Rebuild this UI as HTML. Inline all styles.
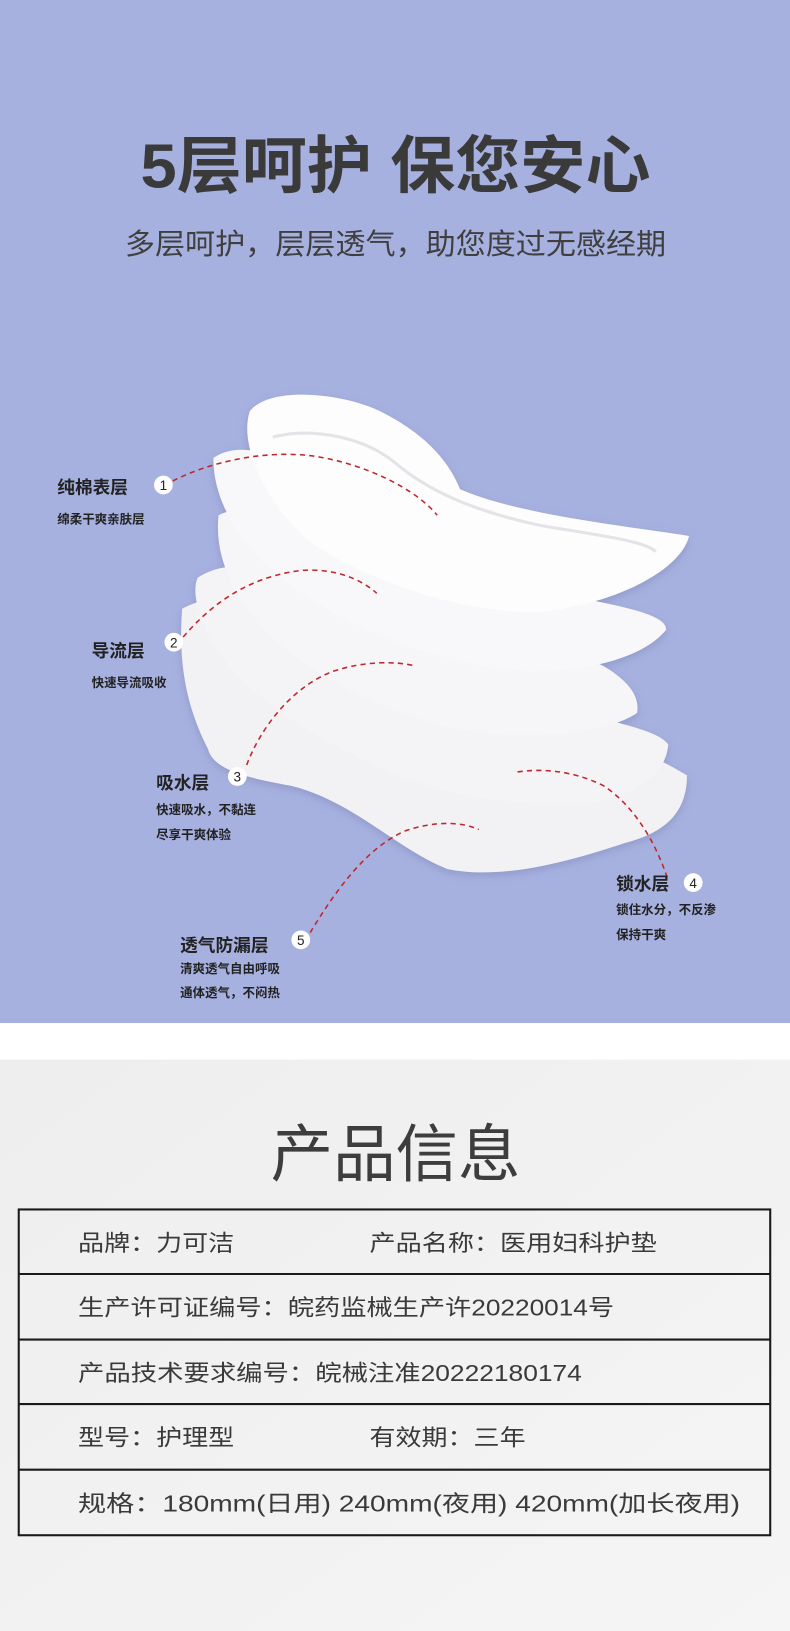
<!DOCTYPE html>
<html><head><meta charset="utf-8"><style>
html,body{margin:0;padding:0;width:790px;height:1631px;overflow:hidden;background:#fff}
svg{display:block}
text{font-family:"Liberation Sans","Noto Sans CJK SC",sans-serif}
</style></head><body>
<svg width="790" height="1631" viewBox="0 0 759 1567" preserveAspectRatio="none">
<defs>
<filter id="sh" x="-10%" y="-10%" width="120%" height="130%"><feDropShadow dx="0" dy="3" stdDeviation="4" flood-color="#6670a0" flood-opacity="0.35"/></filter>
<linearGradient id="bg2" x1="0" y1="0" x2="1" y2="1"><stop offset="0" stop-color="#eeeeee"/><stop offset="1" stop-color="#f5f5f5"/></linearGradient>
</defs>
<rect x="0" y="0" width="759" height="983" fill="#a7b1e0"/>
<rect x="0" y="983" width="759" height="35" fill="#ffffff"/>
<rect x="0" y="1018" width="759" height="549" fill="url(#bg2)"/>

<text x="380" y="180" font-size="60" fill="#3a3a3a" text-anchor="middle" font-weight="bold" textLength="490" lengthAdjust="spacingAndGlyphs">5层呵护  保您安心</text>
<text x="380" y="244" font-size="28" fill="#3f3f3f" text-anchor="middle" textLength="520" lengthAdjust="spacingAndGlyphs">多层呵护，层层透气，助您度过无感经期</text>

<g filter="url(#sh)">
<path d="M175,585 C200,570 230,575 250,590 C300,600 400,640 500,680 C560,700 620,720 660,745 C660,780 640,800 600,810 C540,830 480,845 430,835 C380,815 340,770 280,755 C240,748 205,740 200,720 C185,690 170,650 175,585 Z" fill="#f2f2f4"/>
<path d="M190,555 C220,535 260,545 300,570 C380,610 470,650 540,680 C590,695 630,700 642,715 C640,745 610,765 560,772 C480,775 400,760 330,720 C270,690 220,650 200,610 C188,585 185,565 190,555 Z" fill="#f4f4f6"/>
<path d="M210,495 C240,480 290,495 340,525 C420,570 520,610 580,640 C605,655 615,670 612,685 C590,700 540,710 470,705 C390,695 320,660 270,620 C230,585 205,540 210,495 Z" fill="#f6f6f8"/>
<path d="M205,440 C235,420 280,440 320,480 C380,520 480,560 560,575 C610,585 640,592 640,605 C620,630 570,645 510,645 C430,640 350,610 290,570 C240,535 205,490 205,440 Z" fill="#f8f8fa"/>
<path d="M240,395 C260,370 330,378 365,395 C405,415 430,440 442,470 C500,495 600,505 662,515 C655,545 600,578 520,588 C450,590 360,562 300,522 C262,492 228,432 240,395 Z" fill="#fdfdfd"/>
</g>
<path d="M262,420 C300,410 350,420 380,445 C410,470 450,490 520,505 C580,515 620,520 630,530" stroke="#e4e4e8" stroke-width="3" fill="none"/>

<g stroke="#c0262d" stroke-width="1.5" stroke-dasharray="5,4" fill="none">
<path d="M166,462 C200,445 250,432 300,438 C350,445 400,470 420,495"/>
<path d="M176,612 C195,590 230,555 290,548 C320,546 345,555 362,570"/>
<path d="M237,735 C250,700 280,660 320,645 C350,635 380,635 400,640"/>
<path d="M641,843 C630,810 610,775 580,755 C550,740 520,738 495,742"/>
<path d="M298,896 C320,860 350,815 390,798 C420,788 445,790 460,797"/>
</g>

<g font-weight="bold" fill="#222">
<text x="55" y="474" font-size="17">纯棉表层</text>
<text x="55" y="503" font-size="12">绵柔干爽亲肤层</text>
<text x="88" y="631" font-size="17">导流层</text>
<text x="88" y="660" font-size="12">快速导流吸收</text>
<text x="150" y="758" font-size="17">吸水层</text>
<text x="150" y="782" font-size="12">快速吸水，不黏连</text>
<text x="150" y="806" font-size="12">尽享干爽体验</text>
<text x="592" y="855" font-size="17">锁水层</text>
<text x="592" y="878" font-size="12">锁住水分，不反渗</text>
<text x="592" y="902" font-size="12">保持干爽</text>
<text x="173" y="914" font-size="17">透气防漏层</text>
<text x="173" y="935" font-size="12">清爽透气自由呼吸</text>
<text x="173" y="958" font-size="12">通体透气，不闷热</text>
</g>
<g fill="#fff">
<circle cx="157" cy="466" r="9"/><circle cx="167" cy="617" r="9"/><circle cx="228" cy="746" r="9"/><circle cx="666" cy="848" r="9"/><circle cx="289" cy="903" r="9"/>
</g>
<g font-size="13" fill="#222" text-anchor="middle">
<text x="157" y="471">1</text><text x="167" y="622">2</text><text x="228" y="751">3</text><text x="666" y="853">4</text><text x="289" y="908">5</text>
</g>

<text x="380" y="1130" font-size="60" fill="#3d3d3d" text-anchor="middle">产品信息</text>
<g stroke="#1a1a1a" stroke-width="2" fill="none">
<rect x="18" y="1162" width="722" height="313"/>
<line x1="18" y1="1224" x2="740" y2="1224"/>
<line x1="18" y1="1287" x2="740" y2="1287"/>
<line x1="18" y1="1349" x2="740" y2="1349"/>
<line x1="18" y1="1412" x2="740" y2="1412"/>
</g>
<g font-size="22" fill="#3a3a3a">
<text x="75" y="1202" textLength="150" lengthAdjust="spacingAndGlyphs">品牌：力可洁</text>
<text x="355" y="1202" textLength="276" lengthAdjust="spacingAndGlyphs">产品名称：医用妇科护垫</text>
<text x="75" y="1264" textLength="515" lengthAdjust="spacingAndGlyphs">生产许可证编号：皖药监械生产许20220014号</text>
<text x="75" y="1327" textLength="484" lengthAdjust="spacingAndGlyphs">产品技术要求编号：皖械注准20222180174</text>
<text x="75" y="1389" textLength="150" lengthAdjust="spacingAndGlyphs">型号：护理型</text>
<text x="355" y="1389" textLength="150" lengthAdjust="spacingAndGlyphs">有效期：三年</text>
<text x="75" y="1452" textLength="636" lengthAdjust="spacingAndGlyphs">规格：180mm(日用)  240mm(夜用)  420mm(加长夜用)</text>
</g>
</svg>
</body></html>
